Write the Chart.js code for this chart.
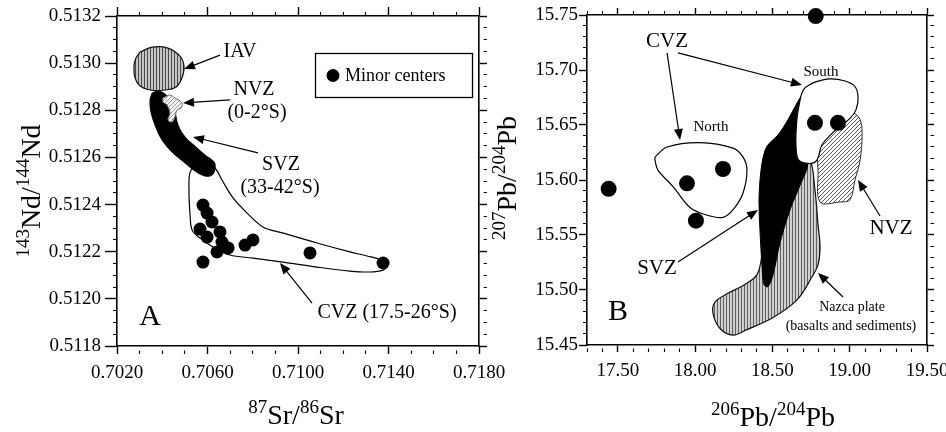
<!DOCTYPE html>
<html>
<head>
<meta charset="utf-8">
<script src="https://cdn.jsdelivr.net/npm/chart.js@4.4.1/dist/chart.umd.min.js"></script>
<style>
  html, body { margin: 0; padding: 0; background: #fff; overflow: hidden; }
  #wrap { position: relative; width: 946px; height: 432px; overflow: hidden; }
  #wrap canvas { position: absolute; left: 0; top: 0; }
</style>
</head>
<body>
<div id="wrap">
  <canvas id="srnd" width="946" height="432"></canvas>
  <canvas id="pbpb" width="990" height="432"></canvas>
</div>
<script>
// ---------- Panel A: 87Sr/86Sr vs 143Nd/144Nd ----------
const srTicks = [0.7020, 0.7060, 0.7100, 0.7140, 0.7180];
const ndTicks = [0.5118, 0.5120, 0.5122, 0.5124, 0.5126, 0.5128, 0.5130, 0.5132];

const iavA = [[0.70302,0.513047],[0.70355,0.513068],[0.70425,0.513064],[0.70478,0.513030],[0.70496,0.512988],
  [0.70487,0.512937],[0.70461,0.512899],[0.70412,0.512886],[0.70346,0.512886],[0.70302,0.512903],
  [0.70280,0.512937],[0.70275,0.512988],[0.70284,0.513022]];
const svzA = [[0.70355,0.512873],[0.70346,0.512844],[0.70350,0.512793],[0.70368,0.512737],[0.70399,0.512674],
  [0.70443,0.512623],[0.70501,0.512576],[0.70545,0.512542],[0.70589,0.512521],[0.70620,0.512525],
  [0.70633,0.512551],[0.70629,0.512581],[0.70589,0.512610],[0.70545,0.512648],[0.70501,0.512687],
  [0.70470,0.512737],[0.70456,0.512793],[0.70434,0.512844],[0.70412,0.512869],[0.70381,0.512882]];
const nvzA = [[0.70403,0.512852],[0.70434,0.512865],[0.70456,0.512852],[0.70487,0.512831],[0.70483,0.512810],
  [0.70465,0.512801],[0.70456,0.512771],[0.70443,0.512750],[0.70425,0.512759],[0.70434,0.512788],
  [0.70421,0.512822],[0.70403,0.512835]];
const cvzA = [[0.70549,0.512568],[0.70523,0.512538],[0.70518,0.512462],[0.70523,0.512356],[0.70532,0.512292],
  [0.70567,0.512258],[0.70624,0.512220],[0.70699,0.512186],[0.70801,0.512173],[0.70934,0.512156],
  [0.71084,0.512135],[0.71230,0.512118],[0.71318,0.512114],[0.71376,0.512122],[0.71393,0.512139],
  [0.71367,0.512165],[0.71305,0.512182],[0.71230,0.512199],[0.71084,0.512237],[0.70934,0.512279],
  [0.70845,0.512305],[0.70775,0.512364],[0.70713,0.512428],[0.70664,0.512504],[0.70633,0.512555],
  [0.70589,0.512576]];
const minorSr = [0.70580, 0.70598, 0.70620, 0.70567, 0.70598, 0.70655, 0.70664, 0.70691, 0.70642, 0.70580, 0.70766, 0.70801, 0.71053, 0.71376];
const minorNd = [0.512398, 0.512364, 0.512326, 0.512296, 0.512262, 0.512284, 0.512241, 0.512216, 0.512199, 0.512156, 0.512228, 0.512250, 0.512195, 0.512152];

// ---------- Panel B: 206Pb/204Pb vs 207Pb/204Pb ----------
const pb6Ticks = [17.50, 18.00, 18.50, 19.00, 19.50];
const pb7Ticks = [15.45, 15.50, 15.55, 15.60, 15.65, 15.70, 15.75];

const northB = [[17.740,15.621],[17.818,15.630],[18.031,15.634],[18.245,15.629],[18.309,15.621],[18.335,15.609],
  [18.309,15.588],[18.245,15.573],[18.180,15.566],[18.077,15.568],[17.966,15.575],[17.857,15.594],
  [17.759,15.609],[17.740,15.618]];
const southB = [[18.711,15.684],[18.775,15.689],[18.872,15.692],[18.970,15.690],[19.034,15.685],[19.054,15.675],
  [19.041,15.664],[19.002,15.656],[18.905,15.645],[18.821,15.632],[18.788,15.618],[18.743,15.615],
  [18.670,15.618],[18.652,15.632],[18.658,15.655],[18.675,15.670],[18.690,15.679]];
const svzB = [[18.698,15.679],[18.717,15.673],[18.711,15.645],[18.730,15.615],[18.678,15.595],[18.614,15.573],
  [18.549,15.543],[18.504,15.514],[18.471,15.503],[18.445,15.505],[18.432,15.523],[18.419,15.555],
  [18.413,15.582],[18.426,15.609],[18.452,15.627],[18.484,15.634],[18.536,15.641],[18.601,15.655],
  [18.659,15.670]];
const nazcaB = [[18.678,15.618],[18.743,15.618],[18.775,15.591],[18.795,15.559],[18.808,15.539],[18.795,15.523],
  [18.756,15.512],[18.659,15.491],[18.504,15.475],[18.335,15.464],[18.245,15.459],[18.161,15.465],
  [18.115,15.479],[18.128,15.489],[18.212,15.497],[18.322,15.505],[18.400,15.514],[18.432,15.532],
  [18.452,15.564],[18.517,15.591],[18.614,15.609]];
const nvzB = [[18.795,15.647],[18.872,15.653],[18.970,15.658],[19.021,15.661],[19.067,15.655],[19.080,15.641],
  [19.067,15.618],[19.034,15.600],[19.002,15.582],[18.937,15.580],[18.808,15.580],[18.795,15.609],
  [18.788,15.632]];
const minorPb6 = [18.78, 17.44, 17.947, 18.18, 18.005, 18.775, 18.924];
const minorPb7 = [15.749, 15.592, 15.597, 15.610, 15.563, 15.652, 15.652];

// ---------- labels and arrows (data coordinates) ----------
const labelsA = [
  { text: 'IAV', at: [0.707437, 0.513047], size: 20 },
  { text: 'NVZ', at: [0.708055, 0.512886], size: 20 },
  { text: '(0-2°S)', at: [0.708188, 0.512788], size: 20 },
  { text: 'SVZ', at: [0.709249, 0.512568], size: 20 },
  { text: '(33-42°S)', at: [0.709205, 0.512470], size: 20 },
  { text: 'CVZ (17.5-26°S)', at: [0.713934, 0.511940], size: 20 },
  { text: 'A', at: [0.703459, 0.511923], size: 30 }
];
const arrowsA = [
  [[0.706553, 0.513034], [0.704961, 0.512975]],
  [[0.706995, 0.512844], [0.704917, 0.512831]],
  [[0.708232, 0.512619], [0.705359, 0.512687]],
  [[0.710619, 0.511982], [0.709205, 0.512152]]
];
const labelsB = [
  { text: 'CVZ', at: [17.818, 15.726], size: 21 },
  { text: 'North', at: [18.102, 15.648], size: 15 },
  { text: 'South', at: [18.814, 15.698], size: 15 },
  { text: 'SVZ', at: [17.753, 15.520], size: 21 },
  { text: 'NVZ', at: [19.267, 15.556], size: 21 },
  { text: 'Nazca plate', at: [19.015, 15.484], size: 14 },
  { text: '(basalts and sediments)', at: [19.008, 15.467], size: 14 },
  { text: 'B', at: [17.501, 15.480], size: 30 }
];
const arrowsB = [
  [[17.818, 15.7155], [17.902, 15.6364]],
  [[17.889, 15.7155], [18.691, 15.6864]],
  [[17.889, 15.5255], [18.4065, 15.5727]],
  [[19.196, 15.5673], [19.0535, 15.600]],
  [[18.9565, 15.4936], [18.7947, 15.5155]]
];

const FONT = '"Liberation Serif", "Times New Roman", serif';
Chart.defaults.font.family = FONT;
Chart.defaults.color = '#000';

function stripePattern(ctx, bg, fg, w) {
  const c = document.createElement('canvas');
  c.width = w; c.height = w;
  const g = c.getContext('2d');
  g.fillStyle = bg; g.fillRect(0, 0, w, w);
  g.fillStyle = fg; g.fillRect(0, 0, 1, w);
  return ctx.createPattern(c, 'repeat');
}
function diagPattern(ctx, bg, fg, w) {
  const c = document.createElement('canvas');
  c.width = w; c.height = w;
  const g = c.getContext('2d');
  g.fillStyle = bg; g.fillRect(0, 0, w, w);
  g.strokeStyle = fg; g.lineWidth = 1;
  g.beginPath();
  g.moveTo(0, w); g.lineTo(w, 0);
  g.moveTo(-1, 1); g.lineTo(1, -1);
  g.moveTo(w - 1, w + 1); g.lineTo(w + 1, w - 1);
  g.stroke();
  return ctx.createPattern(c, 'repeat');
}

function field(label, pts, fill, stroke, width, order) {
  return {
    label, order,
    data: pts.concat([pts[0]]).map(p => ({ x: p[0], y: p[1] })),
    showLine: true, fill: 'shape', tension: 0.35,
    backgroundColor: fill, borderColor: stroke, borderWidth: width,
    pointRadius: 0
  };
}
function dots(label, xs, ys, r) {
  return {
    label, order: 0, clip: false,
    data: xs.map((x, i) => ({ x, y: ys[i] })),
    pointRadius: r, pointBackgroundColor: '#000', pointBorderWidth: 0, showLine: false
  };
}

function drawArrow(ctx, x1, y1, x2, y2) {
  const a = Math.atan2(y2 - y1, x2 - x1), L = 11, W = 4.5;
  const c = Math.cos(a), s = Math.sin(a);
  ctx.beginPath();
  ctx.moveTo(x1, y1);
  ctx.lineTo(x2 - L * 0.8 * c, y2 - L * 0.8 * s);
  ctx.stroke();
  ctx.beginPath();
  ctx.moveTo(x2, y2);
  ctx.lineTo(x2 - L * c + W * s, y2 - L * s - W * c);
  ctx.lineTo(x2 - L * c - W * s, y2 - L * s + W * c);
  ctx.closePath();
  ctx.fill();
}

function drawRich(ctx, parts, cx, base, big, small, rise) {
  let w = 0;
  parts.forEach(p => { ctx.font = (p[1] ? small : big) + 'px ' + FONT; w += ctx.measureText(p[0]).width; });
  let x = cx - w / 2;
  ctx.textAlign = 'left';
  ctx.textBaseline = 'alphabetic';
  parts.forEach(p => {
    ctx.font = (p[1] ? small : big) + 'px ' + FONT;
    ctx.fillText(p[0], x, p[1] ? base - rise : base);
    x += ctx.measureText(p[0]).width;
  });
}

function drawNotes(chart, n) {
  const ctx = chart.ctx;
  const xs = chart.scales.x, ys = chart.scales.y;
  ctx.save();
  ctx.fillStyle = '#000';
  ctx.strokeStyle = '#000';
  ctx.lineWidth = 1.2;
  n.arrows.forEach(ar => drawArrow(ctx,
    xs.getPixelForValue(ar[0][0]), ys.getPixelForValue(ar[0][1]),
    xs.getPixelForValue(ar[1][0]), ys.getPixelForValue(ar[1][1])));
  ctx.textAlign = 'center';
  ctx.textBaseline = 'middle';
  n.labels.forEach(l => {
    ctx.font = l.size + 'px ' + FONT;
    ctx.fillText(l.text, xs.getPixelForValue(l.at[0]), ys.getPixelForValue(l.at[1]));
  });
  if (n.legend) {
    const a = chart.chartArea, L = n.legend;
    const bx = a.left + L.dx, by = a.top + L.dy;
    ctx.lineWidth = 1.3;
    ctx.strokeRect(bx + 0.5, by + 0.5, L.w, L.h);
    ctx.beginPath();
    ctx.arc(bx + 18, by + L.h / 2 + 0.5, 6.5, 0, Math.PI * 2);
    ctx.fill();
    ctx.font = '18px ' + FONT;
    ctx.textAlign = 'left';
    ctx.fillText(L.text, bx + 30, by + L.h / 2 + 1);
  }
  ctx.restore();
}

function drawTitles(chart, t) {
  const ctx = chart.ctx;
  ctx.save();
  ctx.fillStyle = '#000';
  drawRich(ctx, t.x.parts, t.x.cx, t.x.base, 28, 19, 11);
  ctx.translate(t.y.base, t.y.cy);
  ctx.rotate(-Math.PI / 2);
  drawRich(ctx, t.y.parts, 0, 0, 28, 19, 11);
  ctx.restore();
}

function decorations(id, notes, titles) {
  return {
    id,
    afterDatasetsDraw(chart) { drawNotes(chart, notes); },
    afterDraw(chart) { drawTitles(chart, titles); }
  };
}

// Tick list for one axis: labelled majors plus unlabelled minor steps between them.
function tickList(min, max, step) {
  const n = Math.round((max - min) / step), out = [];
  for (let k = 0; k <= n; k++) out.push({ value: +(min + k * step).toFixed(8) });
  return out;
}
function isMajor(v, majors, step) {
  return majors.some(m => Math.abs(m - v) < step / 10);
}

// One axis with a black border line; majors get full-length tick marks, minors short ones.
function axis(pos, min, max, majors, step, dec, size, pad, showLabels, tl) {
  const horizontal = pos === 'bottom' || pos === 'top';
  return {
    type: 'linear', position: pos, min, max,
    afterBuildTicks: s => { s.ticks = tickList(min, max, step); },
    afterFit: s => { if (horizontal) s.height = size; else s.width = size; },
    border: { display: true, color: '#000', width: 1.6 },
    grid: {
      display: true, drawOnChartArea: false, drawTicks: true, tickLength: tl, tickColor: '#000',
      tickWidth: c => isMajor(c.tick.value, majors, step) ? 1.4 : 1.1,
      tickBorderDash: c => isMajor(c.tick.value, majors, step) ? [] : [0, tl - 4, 4, 40]
    },
    ticks: {
      display: showLabels, autoSkip: false, maxRotation: 0, padding: pad,
      font: { size: 19 }, color: '#000',
      callback: v => isMajor(v, majors, step) ? Number(v).toFixed(dec) : ''
    }
  };
}

// ----- chart A -----
const ctxA = document.getElementById('srnd').getContext('2d');
new Chart(ctxA, {
  type: 'scatter',
  data: {
    datasets: [
      dots('Minor centers', minorSr, minorNd, 6.5),
      field('NVZ', nvzA, diagPattern(ctxA, '#f4f4f4', '#9a9a9a', 4), '#666', 1, 1),
      field('IAV', iavA, stripePattern(ctxA, '#c4c4c4', '#4a4a4a', 3), '#111', 1.2, 2),
      field('SVZ', svzA, '#000', '#000', 1, 3),
      field('CVZ', cvzA, '#fff', '#000', 1.2, 4)
    ]
  },
  options: {
    responsive: false, animation: false, events: [],
    layout: { padding: { left: 0, top: 0, right: 457, bottom: 0 } },
    scales: {
      x: axis('bottom', 0.7020, 0.7180, srTicks, 0.001, 4, 86, 8, true, 8),
      x2: axis('top', 0.7020, 0.7180, srTicks, 0.001, 4, 16, 0, false, 9),
      y: axis('left', 0.5118, 0.5132, ndTicks, 0.00005, 4, 117, 4, true, 12),
      y2: axis('right', 0.5118, 0.5132, ndTicks, 0.00005, 4, 10, 0, false, 8)
    },
    plugins: { legend: { display: false }, tooltip: { enabled: false } }
  },
  plugins: [decorations('decoA',
    { labels: labelsA, arrows: arrowsA,
      legend: { dx: 198, dy: 37, w: 157, h: 44, text: 'Minor centers' } },
    { x: { parts: [['87', 1], ['Sr/', 0], ['86', 1], ['Sr', 0]], cx: 296, base: 424 },
      y: { parts: [['143', 1], ['Nd/', 0], ['144', 1], ['Nd', 0]], cy: 191, base: 40 } })]
});

// ----- chart B -----
const ctxB = document.getElementById('pbpb').getContext('2d');
new Chart(ctxB, {
  type: 'scatter',
  data: {
    datasets: [
      dots('Minor centers', minorPb6, minorPb7, 8),
      field('CVZ North', northB, '#fff', '#000', 1.2, 1),
      field('CVZ South', southB, '#fff', '#000', 1.2, 2),
      field('SVZ', svzB, '#000', '#000', 1, 3),
      field('NVZ', nvzB, diagPattern(ctxB, '#fff', '#555', 4), '#333', 1, 4),
      field('Nazca plate', nazcaB, stripePattern(ctxB, '#d0d0d0', '#606060', 3), '#111', 1.2, 5)
    ]
  },
  options: {
    responsive: false, animation: false, events: [],
    layout: { padding: { left: 480, top: 0, right: 55, bottom: 0 } },
    scales: {
      x: axis('bottom', 17.3, 19.5, pb6Ticks, 0.1, 2, 87, 8, true, 7),
      x2: axis('top', 17.3, 19.5, pb6Ticks, 0.1, 2, 15, 0, false, 7),
      y: axis('left', 15.45, 15.75, pb7Ticks, 0.01, 2, 107, 1, true, 8),
      y2: axis('right', 15.45, 15.75, pb7Ticks, 0.01, 2, 8, 0, false, 7)
    },
    plugins: { legend: { display: false }, tooltip: { enabled: false } }
  },
  plugins: [decorations('decoB',
    { labels: labelsB, arrows: arrowsB },
    { x: { parts: [['206', 1], ['Pb/', 0], ['204', 1], ['Pb', 0]], cx: 773, base: 426 },
      y: { parts: [['207', 1], ['Pb/', 0], ['204', 1], ['Pb', 0]], cy: 178, base: 516 } })]
});
</script>
</body>
</html>
